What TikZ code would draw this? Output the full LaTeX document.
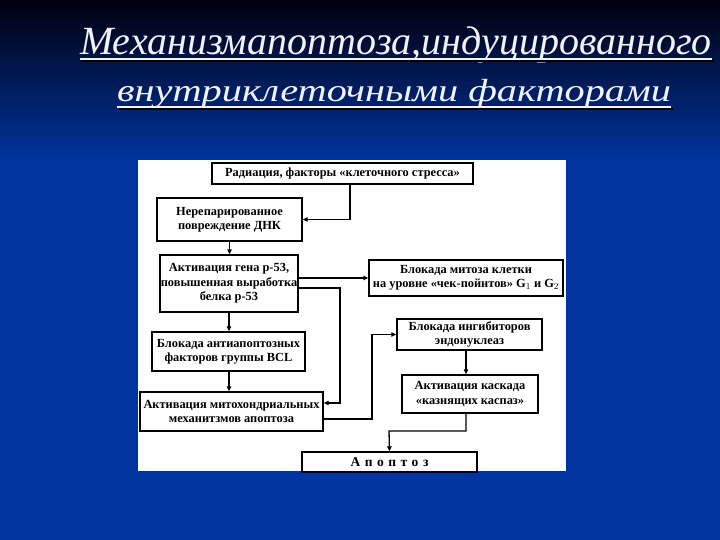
\documentclass[tikz,border=0pt]{standalone}
\usepackage{fontspec}
\setmainfont{Liberation Serif}
\newfontfamily\ttlfont{Liberation Serif}[UprightFont=* Italic]
\usetikzlibrary{arrows.meta}
\definecolor{bgblue}{HTML}{00349E}
\definecolor{bgtop}{HTML}{00000E}
\definecolor{titlecol}{HTML}{F2F2FF}
\tikzset{
  box/.style={draw=black, line width=1.4pt, fill=white, inner sep=0pt, align=center,
    font=\fontsize{12.4}{14.3}\selectfont\bfseries},
  conn/.style={line width=1.3pt, -{Triangle[length=5pt,width=4.5pt]}},
  ttl/.style={inner sep=0pt, anchor=base west, text=titlecol},
}
\newcommand{\titleone}{\scalebox{1.0}[1]{\fontsize{40}{40}\ttlfont\spaceskip=0.3pt\relax Механизм апоптоза, индуцированного}}
\newcommand{\titletwo}{\scalebox{1.26}[1]{\fontsize{32}{32}\ttlfont внутриклеточными факторами}}
\begin{document}
\begin{tikzpicture}[x=1pt,y=-1pt]
\useasboundingbox (0,0) rectangle (720,540);
\clip (0,0) rectangle (720,540);
% background
\fill[bgblue] (0,0) rectangle (720,540);
\shade[top color=bgtop, bottom color=bgblue] (0,0) rectangle (720,160);
% title
\node[ttl] (t1) at (80,55) {\titleone};
\draw[black, line width=2pt] ([xshift=2pt,yshift=-6pt]t1.base west) -- ([xshift=2pt,yshift=-6pt]t1.base east);
\draw[titlecol, line width=2pt] ([yshift=-4pt]t1.base west) -- ([yshift=-4pt]t1.base east);
\node[ttl] (t2) at (117,102) {\titletwo};
\draw[black, line width=2pt] ([xshift=2pt,yshift=-7pt]t2.base west) -- ([xshift=2pt,yshift=-7pt]t2.base east);
\draw[titlecol, line width=2pt] ([yshift=-5pt]t2.base west) -- ([yshift=-5pt]t2.base east);
% panel
\fill[white] (138,160) rectangle (566,471);
% boxes
\node[box, minimum width=261pt, minimum height=21pt] (b1) at (342.5,173.5) {Радиация, факторы «клеточного стресса»};
\node[box, minimum width=145pt, minimum height=43pt] (b2) at (229.5,219.5) {Нерепарированное\\повреждение ДНК};
\node[box, minimum width=138pt, minimum height=57pt] (b3) at (229,283.5) {Активация гена р-53,\\повышенная выработка\\белка р-53};
\node[box, minimum width=194pt, minimum height=36pt] (b4) at (466,278) {Блокада митоза клетки\\на уровне «чек-пойнтов» G$_1$ и G$_2$};
\node[box, minimum width=145pt, minimum height=31pt] (b5) at (469.5,334.5) {Блокада ингибиторов\\эндонуклеаз};
\node[box, minimum width=153pt, minimum height=39pt] (b6) at (228.5,351.5) {Блокада антиапоптозных\\факторов группы BCL};
\node[box, minimum width=183pt, minimum height=39pt] (b7) at (231.5,411.5) {Активация митохондриальных\\механитзмов апоптоза};
\node[box, minimum width=136pt, minimum height=38pt] (b8) at (470,394) {Активация каскада\\«казнящих каспаз»};
\node[box, minimum width=175pt, minimum height=20pt, font=\fontsize{13.5}{14}\selectfont\bfseries] (b9) at (389.5,462) {А\hspace{4.5pt}п\hspace{4.5pt}о\hspace{4.5pt}п\hspace{4.5pt}т\hspace{4.5pt}о\hspace{4.5pt}з};
% helper coordinates
\coordinate (c1) at (350,220);
\coordinate (k1) at (340,288);
\coordinate (k2) at (340,403);
\coordinate (k3) at (372,419);
\coordinate (k4) at (466,431);
\coordinate (k5) at (389,431);
% connectors
\draw[conn] (b1.south -| c1) |- (b2.east);
\draw[conn] (b2.south) -- (b2.south |- b3.north);
\draw[conn, line width=2.2pt] (b3.east |- b4.west) -- (b4.west);
\draw[conn] (b3.east |- k1) -- (k1) -- (k2) -- (b7.east |- k2);
\draw[conn] (b3.south) -- (b3.south |- b6.north);
\draw[conn] (b6.south -| b3.south) -- (b3.south |- b7.north);
\draw[conn] (b7.east |- k3) -- (k3) |- (b5.west);
\draw[conn] (b5.south -| k4) -- (b8.north -| k4);
\draw[conn] (b8.south -| k4) -- (k4) -- (k5) -- (b9.north);
\end{tikzpicture}
\end{document}
